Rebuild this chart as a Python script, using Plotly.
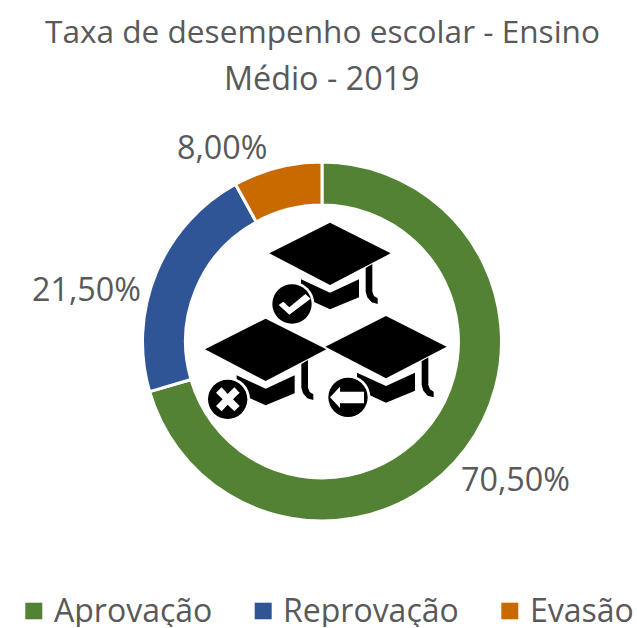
import plotly.graph_objects as go

TITLE_LINES = ["Taxa de desempenho escolar - Ensino", "Médio - 2019"]
categories = ["Aprovação", "Reprovação", "Evasão"]
values = [70.5, 21.5, 8.0]
colors = ["#548235", "#2F5597", "#C96A00"]
W, H = 637, 628
FONT = "Open Sans"
GREY = "#595959"

def zx(x): return (x / 3 + 190) / W
def zy(y): return 1 - (y / 3 + 210) / H
def px(x): return x / W
def py(y): return 1 - y / H

def path(points, dx=0, dy=0):
    return "M" + "L".join(f"{zx(x + dx):.5f},{zy(y + dy):.5f}" for x, y in points) + "Z"

DIAMOND = [(420, 38), (602, 130), (420, 225), (238, 130)]
BASE = [(333, 208), (420, 248), (507, 208), (507, 262), (420, 298), (333, 258)]
TASSEL = [(527, 174), (547, 162), (547, 245), (552, 258), (563, 265), (563, 282),
          (545, 277), (532, 262), (527, 245)]
CAPS = [(0, 0), (-193, 288), (168, 280)]
BADGES = [(306, 282), (113, 568), (474, 562)]

shapes = []
def poly(points, fill="black", dx=0, dy=0):
    shapes.append(dict(type="path", xref="paper", yref="paper", path=path(points, dx, dy),
                       fillcolor=fill, line=dict(width=0), layer="above"))

def disc(cx, cy, r, fill):
    shapes.append(dict(type="circle", xref="paper", yref="paper",
                       x0=zx(cx - r), x1=zx(cx + r), y0=zy(cy + r), y1=zy(cy - r),
                       fillcolor=fill, line=dict(width=0), layer="above"))

for dx, dy in CAPS:
    for p in (DIAMOND, BASE, TASSEL):
        poly(p, dx=dx, dy=dy)
for cx, cy in BADGES:
    disc(cx, cy, 67, "white")
    disc(cx, cy, 59, "black")

poly([(266, 285), (280, 275), (298, 292), (346, 252), (362, 266), (298, 314)], "white")
poly([(95, 532), (113, 552), (133, 532), (149, 548), (129, 568), (149, 588), (133, 604),
      (113, 584), (95, 604), (78, 588), (98, 568), (78, 548)], "white")
poly([(420, 562), (450, 530), (450, 545), (522, 545), (522, 580), (450, 580), (450, 594)], "white")

annotations = []
def text(s, x, y, size, anchor="center", height=None):
    annotations.append(dict(text=s, x=px(x), y=py(y), xref="paper", yref="paper",
                            xanchor=anchor, yanchor="middle", showarrow=False, height=height,
                            borderpad=0,
                            font=dict(family=FONT, size=size, color=GREY)))

label_pos = [(515, 478), (86, 288), (222, 146)]
for v, (x, y) in zip(values, label_pos):
    text(f"{v:.2f}%".replace(".", ","), x, y, 32.3)

text(TITLE_LINES[1], 321.5, 77, 32.3)

swatch_x = [25.3, 254.7, 501.3]
label_x = [53, 282, 529]
for name, col, sx, lx in zip(categories, colors, swatch_x, label_x):
    shapes.append(dict(type="rect", xref="paper", yref="paper",
                       x0=px(sx), x1=px(sx + 17), y0=py(619.3), y1=py(602.7),
                       fillcolor=col, line=dict(width=0)))
    text(name, lx, 609, 32, "left", height=36)

fig = go.Figure(go.Pie(
    labels=categories, values=values, sort=False, direction="clockwise", rotation=0,
    hole=0.76, marker=dict(colors=colors, line=dict(color="white", width=3)),
    textinfo="none", showlegend=False,
    domain=dict(x=[142.5 / W, 501.5 / W], y=[1 - 521 / H, 1 - 162 / H]),
))
fig.update_layout(
    width=W, height=H, autosize=False,
    margin=dict(l=0, r=0, t=0, b=0), paper_bgcolor="white",
    title=dict(text=TITLE_LINES[0], x=322.5 / W, xanchor="center", y=py(32), yanchor="middle",
               font=dict(family=FONT, size=31.6, color=GREY)),
    shapes=shapes, annotations=annotations,
)
fig.write_html("out.html", config=dict(displayModeBar=False),
               post_script="document.body.style.margin='0';document.body.style.overflow='hidden';")
